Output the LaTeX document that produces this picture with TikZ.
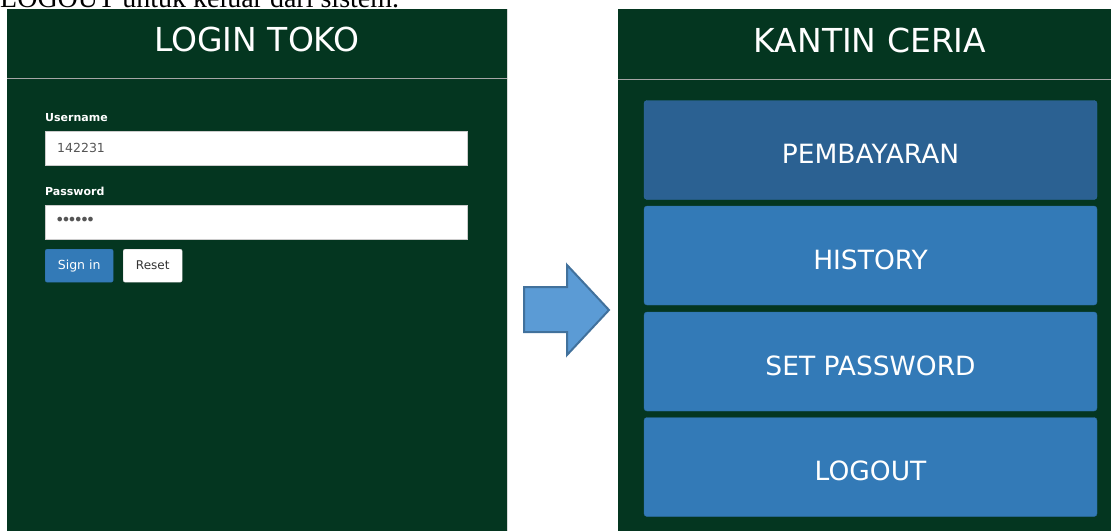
\documentclass[tikz,border=0pt]{standalone}
\usepackage{fontspec}
\setmainfont{DejaVu Sans}
\newfontfamily\docfont{Liberation Serif}
\definecolor{vertfonce}{HTML}{043620}
\definecolor{bleubtn}{HTML}{337AB7}
\definecolor{bleuactif}{HTML}{2B6192}
\definecolor{bleubord}{HTML}{2E6DA4}
\definecolor{gristexte}{HTML}{555555}
\definecolor{flechefond}{HTML}{5B9BD5}
\definecolor{flechebord}{HTML}{41719C}
\newcommand{\pointmdp}{\textbullet\kern-3.3pt}
\tikzset{
  titre/.style={text=white, inner sep=0pt, font=\fontsize{33}{33}\selectfont},
  etiquette/.style={text=white, anchor=base west, inner sep=0pt, font=\bfseries\fontsize{11}{11}\selectfont},
  champ/.style={draw=black!20, fill=white, minimum width=422, minimum height=34, inner sep=0pt},
  saisie/.style={text=gristexte, anchor=west, inner sep=0pt, font=\fontsize{12.5}{12.5}\selectfont},
  menu/.style={fill=bleubtn, draw=bleubord, rounded corners=3pt, text=white,
    minimum width=453, minimum height=99, text height=27pt, text depth=0pt,
    font=\fontsize{26.5}{26.5}\selectfont},
}
\begin{document}
\begin{tikzpicture}[x=1pt, y=-1pt]
\useasboundingbox (0,0) rectangle (1111,531); % Pour la bounding box

% texte du document, coupé en haut
\node [anchor=base west, inner sep=0pt, font=\docfont\fontsize{28}{28}\selectfont] (phrase) at (0,7) {LOGOUT untuk keluar dari sistem.};

% écran de connexion
\fill [vertfonce] (7,9) rectangle (508,531);
\draw [black!15, line width=1pt] (507.5,9) -- (507.5,531);
\draw [gray!70, line width=1pt] (7,78) -- (507,78);
\node [titre] (login) at (257,39.5) {LOGIN TOKO};

\node [etiquette] (user) at (45,121) {Username};
\node [champ, anchor=north west] (champuser) at (45,130.5) {};
\node [saisie] (valuser) at ([xshift=12pt]champuser.west) {142231};
\node [etiquette] (pass) at (45,195) {Password};
\node [champ, anchor=north west] (champpass) at (45,204.5) {};
\node [saisie, font=\fontsize{16}{16}\selectfont] (valpass) at ([xshift=10pt]champpass.west) {\pointmdp\pointmdp\pointmdp\pointmdp\pointmdp\pointmdp};

\node [fill=bleubtn, draw=bleubord, rounded corners=2pt, text=white, minimum width=68, minimum height=33, inner sep=0pt,
  anchor=north west, font=\fontsize{12.5}{12.5}\selectfont] (signin) at (45,249) {Sign in};
\node [fill=white, draw=black!20, rounded corners=2pt, text=black!80, minimum width=59, minimum height=33, inner sep=0pt,
  anchor=north west, font=\fontsize{12}{12}\selectfont] (reset) at (123,249) {Reset};

% flèche
\draw [fill=flechefond, draw=flechebord, line width=2pt, line join=miter]
  (524,287) -- (567,287) -- (567,265) -- (609,310) -- (567,355) -- (567,332) -- (524,332) -- cycle;

% menu principal
\fill [vertfonce] (618,9) rectangle (1111,531);
\draw [gray!70, line width=1pt] (618,79) -- (1111,79);
\node [titre] (kantin) at (870,40) {KANTIN CERIA};

\node [menu, fill=bleuactif] (bayar) at (870.5,150) {PEMBAYARAN};
\node [menu] (history) at (870.5,255.5) {HISTORY};
\node [menu] (setpass) at (870.5,361.5) {SET PASSWORD};
\node [menu] (logout) at (870.5,467) {LOGOUT};
\end{tikzpicture}
\end{document}
